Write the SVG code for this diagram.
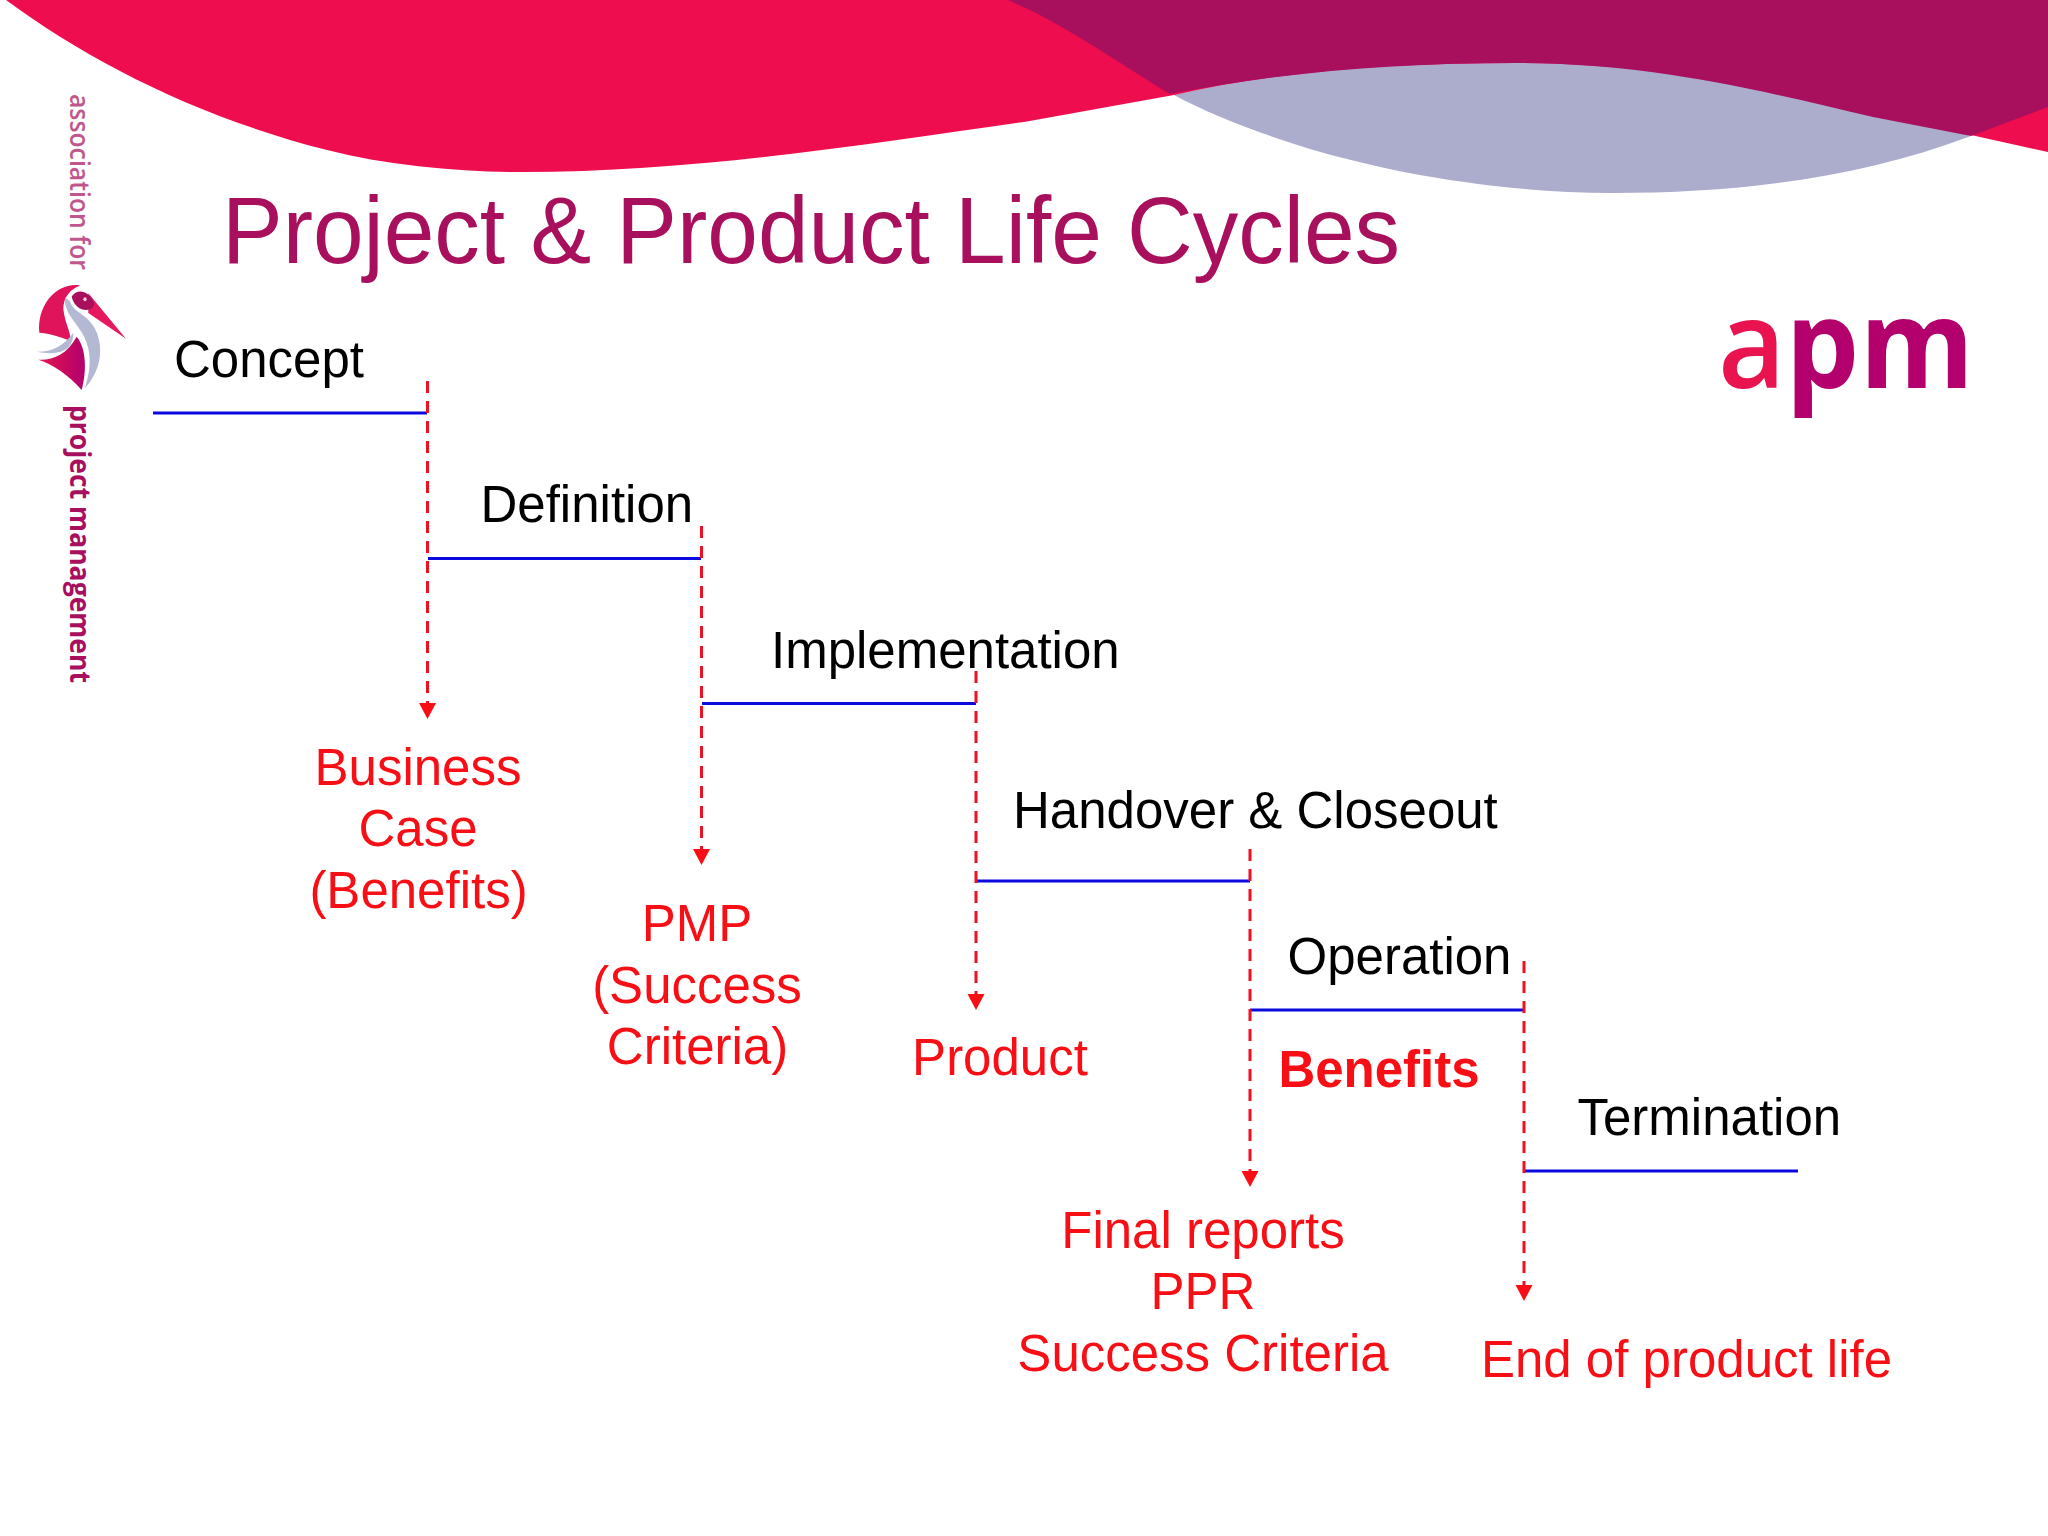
<svg xmlns="http://www.w3.org/2000/svg" width="2048" height="1536" viewBox="0 0 2048 1536">
<style>
text{font-family:"Liberation Sans",Arial,sans-serif;font-size:51px}
.k{fill:#000}
.r{fill:#f70f15;text-anchor:middle}
.b{fill:none;stroke:#0a0adf;stroke-width:3}
.d{fill:none;stroke:#ee1122;stroke-width:3;stroke-dasharray:12 8}
.v{font-family:"Open Sans",sans-serif;fill:#a8105f}
</style>
<defs>
<marker id="ah" markerUnits="userSpaceOnUse" markerWidth="18" markerHeight="18" refX="16" refY="8.5" orient="auto">
<path d="M0,0 L16,8.5 L0,17 Z" fill="#f70f15"/>
</marker>
<linearGradient id="body" x1="0" x2="1"><stop offset="0" stop-color="#e5174f"/><stop offset="1" stop-color="#b3006c"/></linearGradient>
</defs>
<rect width="2048" height="1536" fill="#fff"/>
<g id="banner">
<path d="M6,0 C90,62 200,118 327,150 C390,166 460,172 522,172 C700,172 880,142 1024,122 L1174,95 L1971,135 L2048,152 V0 Z" fill="#ee0d4f"/>
<path d="M1174,95 C1220,120 1290,145 1351,160 C1420,178 1520,193 1612,193 C1740,193 1860,178 1971,136 C1800,85 1640,63 1514,63 C1400,63 1280,70 1174,95 Z" fill="#acadcc"/>
<path d="M1008,0 L1030,10 C1080,35 1130,70 1170,94 C1280,72 1400,63 1514,63 C1640,63 1740,85 1873,117 L1971,136 L2048,107 V0 Z" fill="#a80f5d"/>
</g>
<g id="title"><text x="222" y="263" style="font-size:95px" fill="#a80f5d" textLength="1178" lengthAdjust="spacingAndGlyphs">Project &amp; Product Life Cycles</text></g>
<g id="logo-apm"><text transform="translate(1718,388) scale(.94,1)" style="font-family:'Open Sans',sans-serif;font-size:124px;font-weight:700"><tspan fill="#e8134f" font-weight="600">a</tspan><tspan fill="#b4006d">pm</tspan></text></g>
<g id="logo-side">
<text class="v" transform="translate(70,94) rotate(90)" style="font-size:27px;opacity:.7;font-weight:600" textLength="176" lengthAdjust="spacingAndGlyphs">association for</text>
<text class="v" transform="translate(70,405) rotate(90)" style="font-size:28px;font-weight:700" textLength="278" lengthAdjust="spacingAndGlyphs">project management</text>
<g transform="translate(20,80) scale(.3333,.395)">
<path d="M58,640 C50,570 110,512 180,520 C150,530 130,550 130,580 C135,620 155,640 150,660 C120,650 80,640 58,640 Z" fill="#e0145a"/>
<path d="M135,550 C130,600 190,620 205,680 C215,720 205,750 195,780 C240,740 255,680 225,630 C200,590 160,590 150,560 Z" fill="#b3b8d3"/>
<path d="M48,688 C90,690 130,675 160,640 C160,680 130,700 48,688 Z" fill="#b3b8d3"/>
<path d="M55,708 C100,710 140,695 170,650 C200,680 200,740 185,785 C150,750 100,720 55,708 Z" fill="url(#body)"/>
<path d="M205,540 L318,655 L205,590 Z" fill="#e6195e"/>
<path d="M155,548 C170,528 205,530 222,565 C222,590 165,590 155,548 Z" fill="#a80f5c"/>
<circle cx="195" cy="555" r="5" fill="#f3c8dc"/>
</g>
</g>
<g id="connectors">
<path class="b" d="M153,413 H427"/>
<path class="b" d="M428,558.500 H701"/>
<path class="b" d="M702,703.500 H976"/>
<path class="b" d="M976,881 H1250"/>
<path class="b" d="M1250,1010 H1523"/>
<path class="b" d="M1525,1171 H1798"/>
<path class="d" d="M427.500,381 V719" marker-end="url(#ah)"/>
<path class="d" d="M701.500,526 V865" marker-end="url(#ah)"/>
<path class="d" d="M976,671 V1010" marker-end="url(#ah)"/>
<path class="d" d="M1250,849 V1187" marker-end="url(#ah)"/>
<path class="d" d="M1524,961 V1301" marker-end="url(#ah)"/>
</g>
<g id="concept"><text class="k" x="174" y="377">Concept</text></g>
<g id="definition"><text class="k" x="480.500" y="522">Definition</text></g>
<g id="implementation"><text class="k" x="771" y="668">Implementation</text></g>
<g id="handover"><text class="k" x="1013" y="828">Handover &amp; Closeout</text></g>
<g id="operation"><text class="k" x="1287.500" y="974">Operation</text></g>
<g id="termination"><text class="k" x="1577.500" y="1135">Termination</text></g>
<g id="business-case"><text class="r" x="418" y="785">Business</text><text class="r" x="418" y="846">Case</text><text class="r" x="418.500" y="908">(Benefits)</text></g>
<g id="pmp"><text class="r" x="697" y="941">PMP</text><text class="r" x="697" y="1003">(Success</text><text class="r" x="697.500" y="1064">Criteria)</text></g>
<g id="product"><text class="r" x="1000" y="1075">Product</text></g>
<g id="benefits"><text class="r" x="1379" y="1087" font-weight="700">Benefits</text></g>
<g id="final-reports"><text class="r" x="1203" y="1248">Final reports</text><text class="r" x="1203" y="1309">PPR</text><text class="r" x="1203" y="1371">Success Criteria</text></g>
<g id="end-of-life"><text class="r" x="1686.500" y="1377">End of product life</text></g>
</svg>
